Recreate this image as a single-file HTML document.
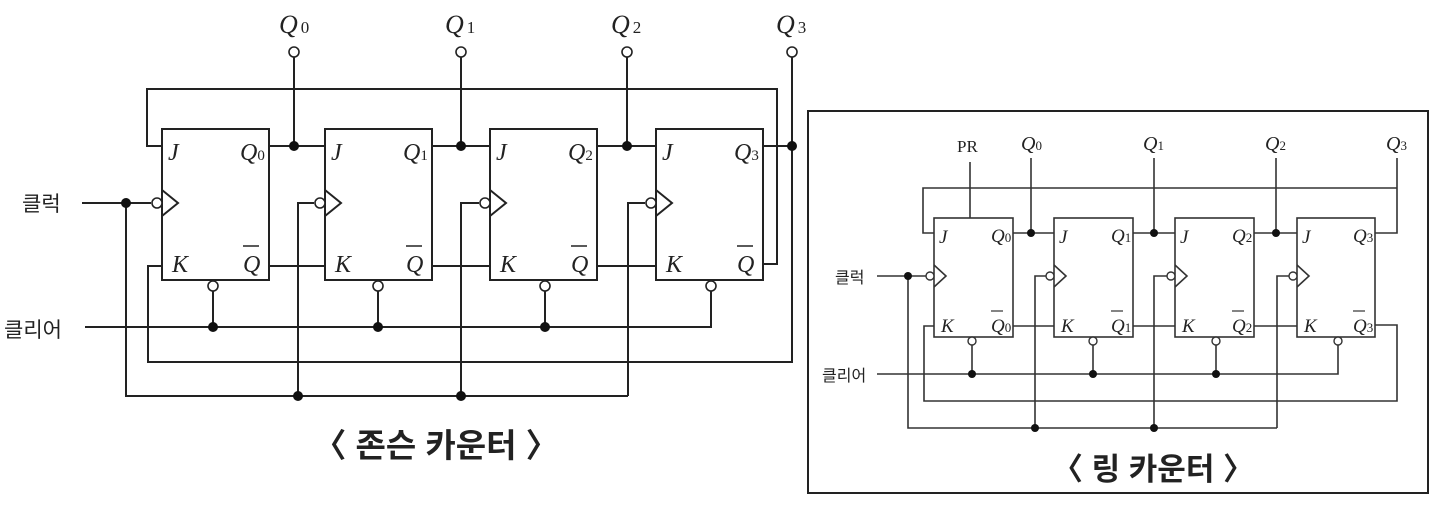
<!DOCTYPE html>
<html><head><meta charset="utf-8"><style>
html,body{margin:0;padding:0;background:#fff;}
svg{display:block}
.s{font-family:"Liberation Serif",serif;font-style:italic;fill:#222}
.k{font-family:"Liberation Sans","Noto Sans CJK KR",sans-serif;fill:#222}
</style></head><body>
<svg width="1456" height="512" viewBox="0 0 1456 512" xmlns="http://www.w3.org/2000/svg">
<g stroke="#222" stroke-width="2" fill="none">
<rect x="162" y="129" width="107" height="151"/>
<rect x="325" y="129" width="107" height="151"/>
<rect x="490" y="129" width="107" height="151"/>
<rect x="656" y="129" width="107" height="151"/>
<polyline points="162,190 178,203 162,216"/>
<polyline points="325,190 341,203 325,216"/>
<polyline points="490,190 506,203 490,216"/>
<polyline points="656,190 672,203 656,216"/>
<polyline points="162,146 147,146 147,89 777,89 777,264 763,264"/>
<polyline points="162,266 148,266 148,362 792,362 792,57"/>
<line x1="763" y1="146" x2="792" y2="146"/>
<line x1="269" y1="146" x2="325" y2="146"/><line x1="294" y1="57" x2="294" y2="146"/>
<line x1="432" y1="146" x2="490" y2="146"/><line x1="461" y1="57" x2="461" y2="146"/>
<line x1="597" y1="146" x2="656" y2="146"/><line x1="627" y1="57" x2="627" y2="146"/>
<line x1="269" y1="266" x2="325" y2="266"/>
<line x1="432" y1="266" x2="490" y2="266"/>
<line x1="597" y1="266" x2="656" y2="266"/>
<line x1="82" y1="203" x2="151" y2="203"/>
<polyline points="126,203 126,396 628,396"/>
<polyline points="298,396 298,203 314,203"/>
<polyline points="461,396 461,203 479,203"/>
<polyline points="628,396 628,203 645,203"/>
<polyline points="85,327 711,327 711,291"/>
<line x1="213" y1="291" x2="213" y2="327"/>
<line x1="378" y1="291" x2="378" y2="327"/>
<line x1="545" y1="291" x2="545" y2="327"/>
</g>
<g stroke="#222" stroke-width="1.6" fill="#fff">
<circle cx="157" cy="203" r="5"/><circle cx="320" cy="203" r="5"/><circle cx="485" cy="203" r="5"/><circle cx="651" cy="203" r="5"/>
<circle cx="213" cy="286" r="5"/><circle cx="378" cy="286" r="5"/><circle cx="545" cy="286" r="5"/><circle cx="711" cy="286" r="5"/>
<circle cx="294" cy="52" r="5"/><circle cx="461" cy="52" r="5"/><circle cx="627" cy="52" r="5"/><circle cx="792" cy="52" r="5"/>
</g>
<g fill="#111">
<circle cx="294" cy="146" r="5"/><circle cx="461" cy="146" r="5"/><circle cx="627" cy="146" r="5"/><circle cx="792" cy="146" r="5"/>
<circle cx="126" cy="203" r="5"/><circle cx="298" cy="396" r="5"/><circle cx="461" cy="396" r="5"/>
<circle cx="213" cy="327" r="5"/><circle cx="378" cy="327" r="5"/><circle cx="545" cy="327" r="5"/>
</g>
<g class="s" font-size="26">
<text x="279" y="33">Q<tspan font-size="17" font-style="normal" dx="3">0</tspan></text>
<text x="445" y="33">Q<tspan font-size="17" font-style="normal" dx="3">1</tspan></text>
<text x="611" y="33">Q<tspan font-size="17" font-style="normal" dx="3">2</tspan></text>
<text x="776" y="33">Q<tspan font-size="17" font-style="normal" dx="3">3</tspan></text>
</g>
<g class="s" font-size="24">
<text x="168" y="160">J</text><text x="331" y="160">J</text><text x="496" y="160">J</text><text x="662" y="160">J</text>
<text x="240" y="160">Q<tspan font-size="15" font-style="normal">0</tspan></text>
<text x="403" y="160">Q<tspan font-size="15" font-style="normal">1</tspan></text>
<text x="568" y="160">Q<tspan font-size="15" font-style="normal">2</tspan></text>
<text x="734" y="160">Q<tspan font-size="15" font-style="normal">3</tspan></text>
<text x="172" y="272">K</text><text x="335" y="272">K</text><text x="500" y="272">K</text><text x="666" y="272">K</text>
<text x="243" y="272">Q</text><text x="406" y="272">Q</text><text x="571" y="272">Q</text><text x="737" y="272">Q</text>
</g>
<g stroke="#222" stroke-width="1.5">
<line x1="243" y1="246" x2="259" y2="246"/><line x1="406" y1="246" x2="422" y2="246"/><line x1="571" y1="246" x2="587" y2="246"/><line x1="737" y1="246" x2="753" y2="246"/>
</g>
<text class="k" x="22" y="211" font-size="21">클럭</text>
<text class="k" x="4" y="337" font-size="21">클리어</text>
<text class="k" x="436" y="457" font-size="33" font-weight="bold" text-anchor="middle">〈 존슨 카운터 〉</text>

<rect x="808" y="111" width="620" height="382" fill="none" stroke="#222" stroke-width="2"/>
<g stroke="#333" stroke-width="1.6" fill="none">
<rect x="934" y="218" width="79" height="119"/>
<rect x="1054" y="218" width="79" height="119"/>
<rect x="1175" y="218" width="79" height="119"/>
<rect x="1297" y="218" width="78" height="119"/>
<polyline points="934,265 946,276 934,287"/>
<polyline points="1054,265 1066,276 1054,287"/>
<polyline points="1175,265 1187,276 1175,287"/>
<polyline points="1297,265 1309,276 1297,287"/>
<polyline points="934,233 923,233 923,188 1397,188"/>
<polyline points="1397,158 1397,233 1375,233"/>
<polyline points="934,326 924,326 924,401 1397,401 1397,325 1375,325"/>
<line x1="970" y1="162" x2="970" y2="218"/>
<line x1="1013" y1="233" x2="1054" y2="233"/><line x1="1031" y1="158" x2="1031" y2="233"/>
<line x1="1133" y1="233" x2="1175" y2="233"/><line x1="1154" y1="158" x2="1154" y2="233"/>
<line x1="1254" y1="233" x2="1297" y2="233"/><line x1="1276" y1="158" x2="1276" y2="233"/>
<line x1="1013" y1="326" x2="1054" y2="326"/>
<line x1="1133" y1="326" x2="1175" y2="326"/>
<line x1="1254" y1="326" x2="1297" y2="326"/>
<line x1="877" y1="276" x2="926" y2="276"/>
<polyline points="908,276 908,428 1277,428"/>
<polyline points="1035,428 1035,276 1046,276"/>
<polyline points="1154,428 1154,276 1167,276"/>
<polyline points="1277,428 1277,276 1289,276"/>
<polyline points="877,374 1338,374 1338,345"/>
<line x1="972" y1="345" x2="972" y2="374"/>
<line x1="1093" y1="345" x2="1093" y2="374"/>
<line x1="1216" y1="345" x2="1216" y2="374"/>
</g>
<g stroke="#333" stroke-width="1.4" fill="#fff">
<circle cx="930" cy="276" r="4"/><circle cx="1050" cy="276" r="4"/><circle cx="1171" cy="276" r="4"/><circle cx="1293" cy="276" r="4"/>
<circle cx="972" cy="341" r="4"/><circle cx="1093" cy="341" r="4"/><circle cx="1216" cy="341" r="4"/><circle cx="1338" cy="341" r="4"/>
</g>
<g fill="#111">
<circle cx="1031" cy="233" r="4"/><circle cx="1154" cy="233" r="4"/><circle cx="1276" cy="233" r="4"/>
<circle cx="908" cy="276" r="4"/><circle cx="1035" cy="428" r="4"/><circle cx="1154" cy="428" r="4"/>
<circle cx="972" cy="374" r="4"/><circle cx="1093" cy="374" r="4"/><circle cx="1216" cy="374" r="4"/>
</g>
<g class="s" font-size="20">
<text x="957" y="152" font-style="normal" font-size="17">PR</text>
<text x="1021" y="150">Q<tspan font-size="13" font-style="normal">0</tspan></text>
<text x="1143" y="150">Q<tspan font-size="13" font-style="normal">1</tspan></text>
<text x="1265" y="150">Q<tspan font-size="13" font-style="normal">2</tspan></text>
<text x="1386" y="150">Q<tspan font-size="13" font-style="normal">3</tspan></text>
</g>
<g class="s" font-size="19">
<text x="939" y="243">J</text><text x="1059" y="243">J</text><text x="1180" y="243">J</text><text x="1302" y="243">J</text>
<text x="991" y="242">Q<tspan font-size="13" font-style="normal">0</tspan></text>
<text x="1111" y="242">Q<tspan font-size="13" font-style="normal">1</tspan></text>
<text x="1232" y="242">Q<tspan font-size="13" font-style="normal">2</tspan></text>
<text x="1353" y="242">Q<tspan font-size="13" font-style="normal">3</tspan></text>
<text x="941" y="332">K</text><text x="1061" y="332">K</text><text x="1182" y="332">K</text><text x="1304" y="332">K</text>
<text x="991" y="332">Q<tspan font-size="13" font-style="normal">0</tspan></text>
<text x="1111" y="332">Q<tspan font-size="13" font-style="normal">1</tspan></text>
<text x="1232" y="332">Q<tspan font-size="13" font-style="normal">2</tspan></text>
<text x="1353" y="332">Q<tspan font-size="13" font-style="normal">3</tspan></text>
</g>
<g stroke="#333" stroke-width="1.2">
<line x1="991" y1="311" x2="1003" y2="311"/><line x1="1111" y1="311" x2="1123" y2="311"/><line x1="1232" y1="311" x2="1244" y2="311"/><line x1="1353" y1="311" x2="1365" y2="311"/>
</g>
<text class="k" x="835" y="283" font-size="16">클럭</text>
<text class="k" x="822" y="381" font-size="16">클리어</text>
<text class="k" x="1153" y="480" font-size="31" font-weight="bold" text-anchor="middle">〈 링 카운터 〉</text>
</svg>
</body></html>
